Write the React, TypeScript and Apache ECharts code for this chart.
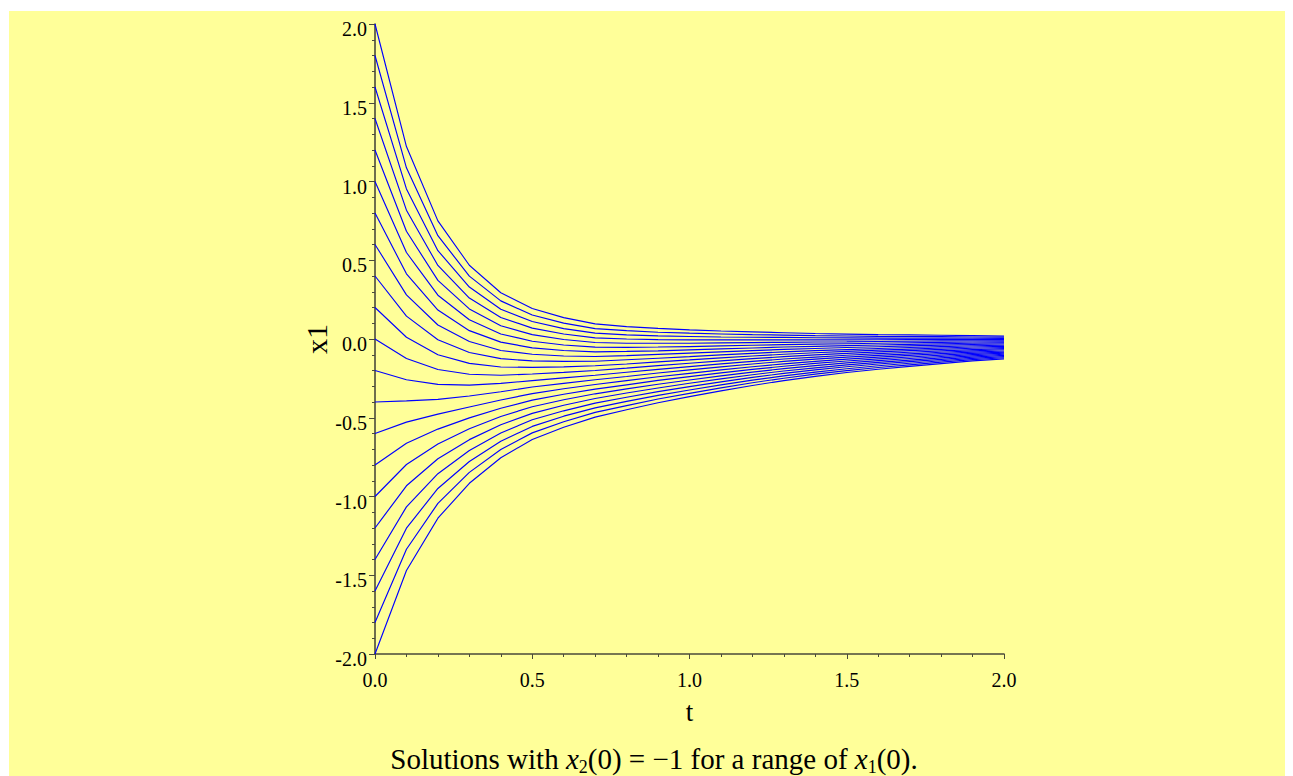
import React, { useEffect, useRef } from "react";
import * as echarts from "echarts";

// Sample times of the numerical solution
const tValues = [0, 0.1, 0.2, 0.3, 0.4, 0.5, 0.6, 0.7, 0.8, 0.9, 1.0, 1.1, 1.2, 1.3, 1.4, 1.5, 1.6, 1.7, 1.8, 1.9, 2.0];

// x1(t) for x2(0) = -1, one array per starting value x1(0)
const fromP20 = [2.0, 1.222, 0.750, 0.468, 0.294, 0.194, 0.136, 0.096, 0.079, 0.067, 0.058, 0.051, 0.045, 0.040, 0.035, 0.031, 0.028, 0.026, 0.024, 0.021, 0.018];
const fromP18 = [1.8, 1.087, 0.656, 0.399, 0.242, 0.152, 0.101, 0.066, 0.053, 0.043, 0.037, 0.032, 0.028, 0.025, 0.021, 0.019, 0.017, 0.016, 0.015, 0.013, 0.011];
const fromP16 = [1.6, 0.953, 0.561, 0.330, 0.189, 0.111, 0.066, 0.037, 0.026, 0.020, 0.016, 0.013, 0.011, 0.010, 0.008, 0.007, 0.006, 0.006, 0.006, 0.005, 0.004];
const fromP14 = [1.4, 0.818, 0.467, 0.260, 0.137, 0.069, 0.032, 0.007, 0.000, -0.004, -0.006, -0.006, -0.006, -0.006, -0.006, -0.006, -0.005, -0.004, -0.003, -0.003, -0.004];
const fromP12 = [1.2, 0.684, 0.372, 0.191, 0.084, 0.028, -0.003, -0.022, -0.027, -0.027, -0.027, -0.025, -0.023, -0.021, -0.019, -0.018, -0.016, -0.014, -0.012, -0.011, -0.011];
const fromP10 = [1.0, 0.549, 0.278, 0.122, 0.032, -0.014, -0.038, -0.052, -0.053, -0.051, -0.048, -0.044, -0.040, -0.036, -0.033, -0.030, -0.027, -0.024, -0.021, -0.019, -0.018];
const fromP08 = [0.8, 0.414, 0.184, 0.053, -0.020, -0.056, -0.073, -0.082, -0.079, -0.075, -0.069, -0.063, -0.057, -0.051, -0.047, -0.042, -0.038, -0.034, -0.030, -0.027, -0.025];
const fromP06 = [0.6, 0.280, 0.089, -0.016, -0.073, -0.097, -0.108, -0.111, -0.106, -0.098, -0.090, -0.082, -0.074, -0.066, -0.060, -0.054, -0.049, -0.044, -0.039, -0.035, -0.032];
const fromP04 = [0.4, 0.145, -0.005, -0.086, -0.125, -0.139, -0.142, -0.141, -0.132, -0.122, -0.112, -0.101, -0.091, -0.082, -0.074, -0.067, -0.060, -0.054, -0.048, -0.043, -0.040];
const fromP02 = [0.2, 0.011, -0.100, -0.155, -0.178, -0.180, -0.177, -0.170, -0.159, -0.145, -0.133, -0.120, -0.108, -0.097, -0.087, -0.079, -0.071, -0.064, -0.057, -0.051, -0.047];
const fromZero = [0.0, -0.124, -0.194, -0.224, -0.230, -0.222, -0.212, -0.200, -0.185, -0.169, -0.154, -0.139, -0.125, -0.112, -0.101, -0.091, -0.082, -0.074, -0.066, -0.059, -0.054];
const fromM02 = [-0.2, -0.259, -0.288, -0.293, -0.282, -0.264, -0.247, -0.230, -0.211, -0.193, -0.175, -0.158, -0.142, -0.127, -0.115, -0.103, -0.093, -0.084, -0.075, -0.067, -0.061];
const fromM04 = [-0.4, -0.393, -0.383, -0.362, -0.335, -0.305, -0.282, -0.259, -0.238, -0.216, -0.196, -0.177, -0.159, -0.142, -0.128, -0.115, -0.104, -0.094, -0.084, -0.075, -0.068];
const fromM06 = [-0.6, -0.528, -0.477, -0.432, -0.387, -0.347, -0.316, -0.289, -0.264, -0.240, -0.218, -0.196, -0.176, -0.158, -0.142, -0.128, -0.115, -0.104, -0.093, -0.083, -0.076];
const fromM08 = [-0.8, -0.662, -0.572, -0.501, -0.440, -0.388, -0.351, -0.318, -0.291, -0.263, -0.239, -0.215, -0.193, -0.173, -0.155, -0.140, -0.126, -0.114, -0.102, -0.091, -0.083];
const fromM10 = [-1.0, -0.797, -0.666, -0.570, -0.492, -0.430, -0.386, -0.348, -0.317, -0.287, -0.260, -0.234, -0.210, -0.188, -0.169, -0.152, -0.137, -0.124, -0.111, -0.099, -0.090];
const fromM12 = [-1.2, -0.932, -0.760, -0.639, -0.544, -0.472, -0.421, -0.378, -0.343, -0.311, -0.281, -0.253, -0.227, -0.203, -0.183, -0.164, -0.148, -0.134, -0.120, -0.107, -0.097];
const fromM14 = [-1.4, -1.066, -0.855, -0.708, -0.597, -0.513, -0.456, -0.407, -0.370, -0.334, -0.302, -0.272, -0.244, -0.218, -0.196, -0.176, -0.159, -0.144, -0.129, -0.115, -0.104];
const fromM16 = [-1.6, -1.201, -0.949, -0.778, -0.649, -0.555, -0.490, -0.437, -0.396, -0.358, -0.324, -0.291, -0.261, -0.234, -0.210, -0.189, -0.170, -0.154, -0.138, -0.123, -0.112];
const fromM18 = [-1.8, -1.335, -1.044, -0.847, -0.702, -0.596, -0.525, -0.466, -0.423, -0.381, -0.345, -0.310, -0.278, -0.249, -0.223, -0.201, -0.181, -0.164, -0.147, -0.131, -0.119];
const fromM20 = [-2.0, -1.470, -1.138, -0.916, -0.754, -0.638, -0.560, -0.496, -0.449, -0.405, -0.366, -0.329, -0.295, -0.264, -0.237, -0.213, -0.192, -0.174, -0.156, -0.139, -0.126];

const solutions = [
  fromP20, fromP18, fromP16, fromP14, fromP12, fromP10, fromP08, fromP06, fromP04, fromP02,
  fromZero,
  fromM02, fromM04, fromM06, fromM08, fromM10, fromM12, fromM14, fromM16, fromM18, fromM20,
];

const SERIF = "'Liberation Serif', 'Times New Roman', serif";
const BG = "#ffff99";
const AXIS = "#4a4a3a";

export default function App() {
  const ref = useRef<HTMLDivElement>(null);

  useEffect(() => {
    if (!ref.current) return;
    const chart = echarts.init(ref.current, undefined, { renderer: "svg" });

    const series = solutions.map((vals) => ({
      type: "line",
      data: tValues.map((t, i) => [t, vals[i]]),
      showSymbol: false,
      symbol: "none",
      lineStyle: { color: "#0000ff", width: 1.15 },
      silent: true,
    }));

    const axisLine = { show: true, onZero: false, lineStyle: { color: AXIS, width: 1.6 } };

    chart.setOption({
      animation: false,
      backgroundColor: BG,
      grid: { left: 366, right: 281, top: 13, bottom: 122 },
      xAxis: {
        type: "value",
        min: 0,
        max: 2,
        interval: 0.5,
        name: "t",
        nameLocation: "middle",
        nameGap: 44,
        nameTextStyle: { fontFamily: SERIF, fontSize: 27, color: "#000" },
        axisLine,
        axisTick: { show: true, length: 5, lineStyle: { color: AXIS } },
        minorTick: { show: true, splitNumber: 5, length: 3, lineStyle: { color: AXIS } },
        splitLine: { show: false },
        axisLabel: {
          fontFamily: SERIF,
          fontSize: 20,
          color: "#000",
          margin: 16,
          formatter: (v: number) => v.toFixed(1),
        },
      },
      yAxis: {
        type: "value",
        min: -2,
        max: 2,
        interval: 0.5,
        name: "x1",
        nameLocation: "middle",
        nameGap: 40,
        nameRotate: 90,
        nameTextStyle: { fontFamily: SERIF, fontSize: 30, color: "#000" },
        axisLine,
        axisTick: { show: true, length: 6, lineStyle: { color: AXIS } },
        minorTick: { show: true, splitNumber: 5, length: 3, lineStyle: { color: AXIS } },
        splitLine: { show: false },
        axisLabel: {
          fontFamily: SERIF,
          fontSize: 20,
          color: "#000",
          margin: 8,
          verticalAlign: "top",
          lineHeight: 10,
          formatter: (v: number) => v.toFixed(1),
        },
      },
      graphic: [
        {
          type: "text",
          x: 645,
          y: 764,
          silent: true,
          style: {
            text: "{r|Solutions with }{i|x}{s|2}{r|(0) = \u22121 for a range of }{i|x}{s|1}{r|(0).}",
            align: "center",
            verticalAlign: "bottom",
            rich: {
              r: { fontFamily: SERIF, fontSize: 29, color: "#000", lineHeight: 32 },
              i: { fontFamily: SERIF, fontSize: 29, fontStyle: "italic", color: "#000", lineHeight: 32 },
              s: { fontFamily: SERIF, fontSize: 18, color: "#000", lineHeight: 32, padding: [15, 0, 0, 0] },
            },
          },
        },
      ],
      series,
    });

    return () => chart.dispose();
  }, []);

  return (
    <div
      style={{
        position: "fixed",
        left: 9,
        top: 11,
        width: 1276,
        height: 765,
        background: BG,
        overflow: "hidden",
      }}
    >
      <div ref={ref} style={{ width: 1276, height: 765 }} />
    </div>
  );
}
